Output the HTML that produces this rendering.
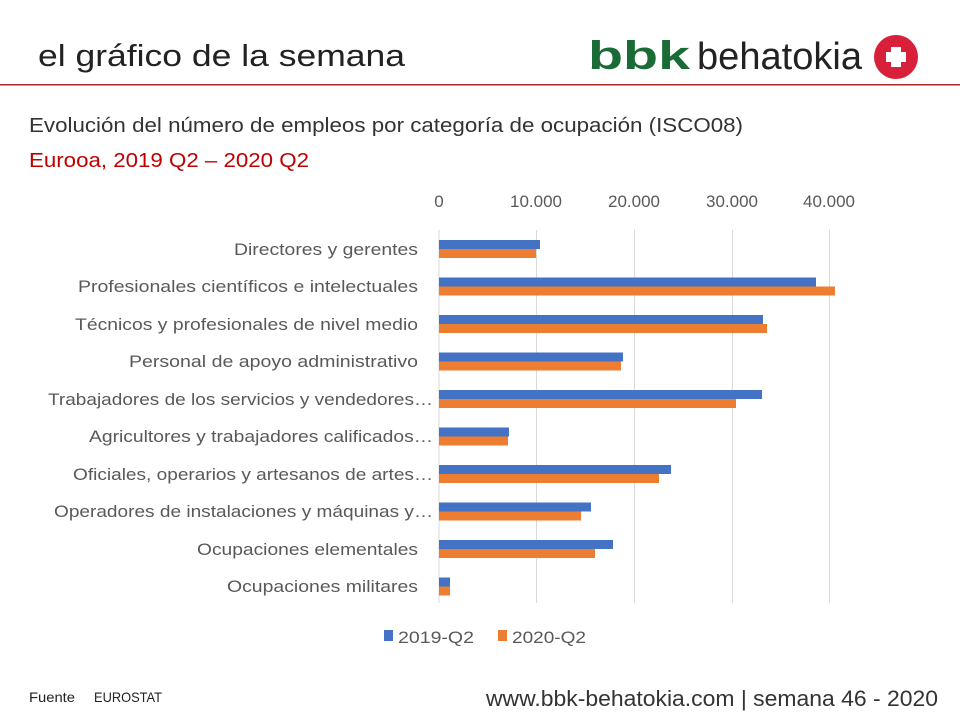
<!DOCTYPE html>
<html><head><meta charset="utf-8"><style>
html,body{margin:0;padding:0;background:#fff;}
svg{display:block;font-family:"Liberation Sans",sans-serif;}
</style></head><body>
<svg width="960" height="720" viewBox="0 0 960 720" xmlns="http://www.w3.org/2000/svg">
<text x="38" y="66" font-size="31" fill="#222" textLength="367" lengthAdjust="spacingAndGlyphs">el gráfico de la semana</text>
<text x="588" y="69" font-size="40" font-weight="bold" fill="#1a6b35" textLength="102" lengthAdjust="spacingAndGlyphs">bbk</text>
<text x="697" y="69" font-size="38" fill="#222" textLength="165" lengthAdjust="spacingAndGlyphs">behatokia</text>
<circle cx="896" cy="57" r="22" fill="#d9203a"/>
<rect x="891" y="47" width="10" height="20" fill="#fff"/>
<rect x="886" y="52" width="20" height="10" fill="#fff"/>
<rect x="0" y="84" width="960" height="1.5" fill="#a52a2a"/>
<text x="29" y="132" font-size="20" fill="#333" textLength="714" lengthAdjust="spacingAndGlyphs">Evolución del número de empleos por categoría de ocupación (ISCO08)</text>
<text x="29" y="167" font-size="20" fill="#c00000" textLength="280" lengthAdjust="spacingAndGlyphs">Eurooa,  2019 Q2 – 2020 Q2</text>
<g font-size="17" fill="#595959" text-anchor="middle">
<text x="439" y="207">0</text><text x="536" y="207">10.000</text><text x="634" y="207">20.000</text><text x="732" y="207">30.000</text><text x="829" y="207">40.000</text>
</g>
<g stroke="#d9d9d9" stroke-width="1">
<line x1="439" y1="230" x2="439" y2="603"/><line x1="536.5" y1="230" x2="536.5" y2="603"/><line x1="634.5" y1="230" x2="634.5" y2="603"/><line x1="732.5" y1="230" x2="732.5" y2="603"/><line x1="829.5" y1="230" x2="829.5" y2="603"/>
</g>
<g>
<rect x="439" y="240" width="101" height="9" fill="#4472c4"/><rect x="439" y="249" width="97" height="9" fill="#ed7d31"/>
<rect x="439" y="277.5" width="377" height="9" fill="#4472c4"/><rect x="439" y="286.5" width="396" height="9" fill="#ed7d31"/>
<rect x="439" y="315" width="324" height="9" fill="#4472c4"/><rect x="439" y="324" width="328" height="9" fill="#ed7d31"/>
<rect x="439" y="352.5" width="184" height="9" fill="#4472c4"/><rect x="439" y="361.5" width="182" height="9" fill="#ed7d31"/>
<rect x="439" y="390" width="323" height="9" fill="#4472c4"/><rect x="439" y="399" width="297" height="9" fill="#ed7d31"/>
<rect x="439" y="427.5" width="70" height="9" fill="#4472c4"/><rect x="439" y="436.5" width="69" height="9" fill="#ed7d31"/>
<rect x="439" y="465" width="232" height="9" fill="#4472c4"/><rect x="439" y="474" width="220" height="9" fill="#ed7d31"/>
<rect x="439" y="502.5" width="152" height="9" fill="#4472c4"/><rect x="439" y="511.5" width="142" height="9" fill="#ed7d31"/>
<rect x="439" y="540" width="174" height="9" fill="#4472c4"/><rect x="439" y="549" width="156" height="9" fill="#ed7d31"/>
<rect x="439" y="577.5" width="11" height="9" fill="#4472c4"/><rect x="439" y="586.5" width="11" height="9" fill="#ed7d31"/>
</g>
<g font-size="17" fill="#595959" lengthAdjust="spacingAndGlyphs">
<text x="234" y="255" textLength="184" lengthAdjust="spacingAndGlyphs">Directores y gerentes</text>
<text x="78" y="292" textLength="340" lengthAdjust="spacingAndGlyphs">Profesionales científicos e intelectuales</text>
<text x="75" y="330" textLength="343" lengthAdjust="spacingAndGlyphs">Técnicos y profesionales de nivel medio</text>
<text x="129" y="367" textLength="289" lengthAdjust="spacingAndGlyphs">Personal de apoyo administrativo</text>
<text x="48" y="405" textLength="385" lengthAdjust="spacingAndGlyphs">Trabajadores de los servicios y vendedores…</text>
<text x="89" y="442" textLength="344" lengthAdjust="spacingAndGlyphs">Agricultores y trabajadores calificados…</text>
<text x="73" y="480" textLength="360" lengthAdjust="spacingAndGlyphs">Oficiales, operarios y artesanos de artes…</text>
<text x="54" y="517" textLength="379" lengthAdjust="spacingAndGlyphs">Operadores de instalaciones y máquinas y…</text>
<text x="197" y="555" textLength="221" lengthAdjust="spacingAndGlyphs">Ocupaciones elementales</text>
<text x="227" y="592" textLength="191" lengthAdjust="spacingAndGlyphs">Ocupaciones militares</text>
</g>
<rect x="384" y="630" width="9" height="11" fill="#4472c4"/>
<text x="398" y="643" font-size="17" fill="#595959" textLength="76" lengthAdjust="spacingAndGlyphs">2019-Q2</text>
<rect x="498" y="630" width="9" height="11" fill="#ed7d31"/>
<text x="512" y="643" font-size="17" fill="#595959" textLength="74" lengthAdjust="spacingAndGlyphs">2020-Q2</text>
<text x="29" y="702" font-size="14" fill="#222" textLength="46" lengthAdjust="spacingAndGlyphs">Fuente</text>
<text x="94" y="702" font-size="14" fill="#222" textLength="68" lengthAdjust="spacingAndGlyphs">EUROSTAT</text>
<text x="938" y="706" font-size="22" fill="#333" text-anchor="end" textLength="452" lengthAdjust="spacingAndGlyphs">www.bbk-behatokia.com | semana 46 - 2020</text>
</svg>
</body></html>
